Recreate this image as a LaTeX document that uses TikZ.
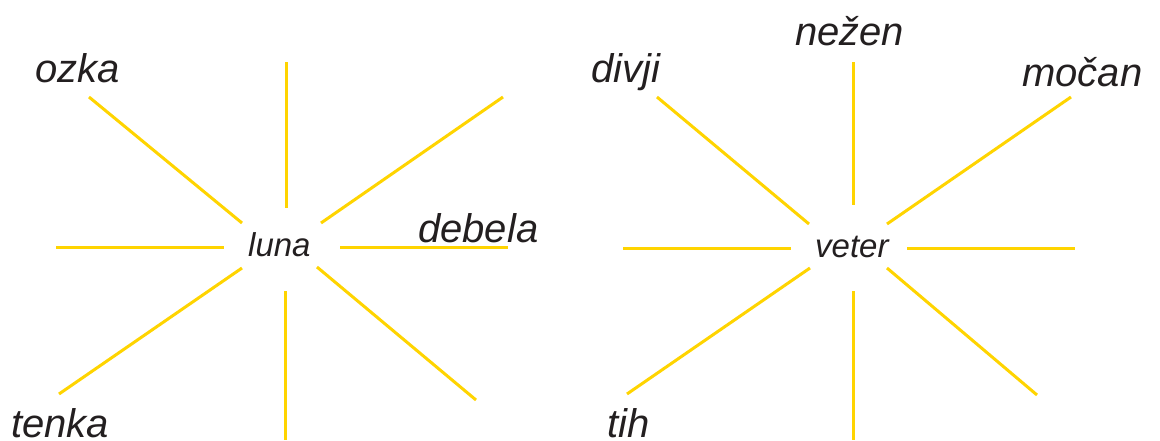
\documentclass[tikz,border=0pt]{standalone}
\usepackage{fontspec}
\setmainfont{Liberation Sans}
\definecolor{ray}{RGB}{255,212,0}
\definecolor{ink}{RGB}{35,31,32}
\tikzset{
  rayline/.style={draw=ray, line width=3pt},
  bigword/.style={anchor=base west, inner sep=0pt, text=ink, font=\fontsize{40}{40}\selectfont\itshape},
  midword/.style={anchor=base west, inner sep=0pt, text=ink, font=\fontsize{33}{33}\selectfont\itshape}
}
\begin{document}
\begin{tikzpicture}[x=1pt,y=-1pt]
\useasboundingbox (0,0) rectangle (1160,440);
% left star
\draw[rayline] (286,62) -- (286,208);
\draw[rayline] (285,291) -- (285,440);
\draw[rayline] (56,247) -- (224,247);
\draw[rayline] (340,247) -- (508,247);
\draw[rayline] (89,97) -- (242,223);
\draw[rayline] (503,97) -- (321,223);
\draw[rayline] (59,394) -- (242,268);
\draw[rayline] (476,400) -- (317,267);
\node[midword] (luna) at (248,256) {luna};
\node[bigword] (ozka) at (35,82) {ozka};
\node[bigword] (debela) at (418,242) {debela};
\node[bigword] (tenka) at (11,437) {tenka};
% right star
\draw[rayline] (853,62) -- (853,205);
\draw[rayline] (853,291) -- (853,440);
\draw[rayline] (623,248) -- (791,248);
\draw[rayline] (907,248) -- (1075,248);
\draw[rayline] (657,97) -- (809,224);
\draw[rayline] (1071,97) -- (887,224);
\draw[rayline] (627,394) -- (810,268);
\draw[rayline] (1037,395) -- (887,268);
\node[midword] (veter) at (815,257) {veter};
\node[bigword] (divji) at (591,82) {divji};
\node[bigword] (nezen) at (795,45) {nežen};
\node[bigword] (mocan) at (1022,86) {močan};
\node[bigword] (tih) at (607,437) {tih};
\end{tikzpicture}
\end{document}
